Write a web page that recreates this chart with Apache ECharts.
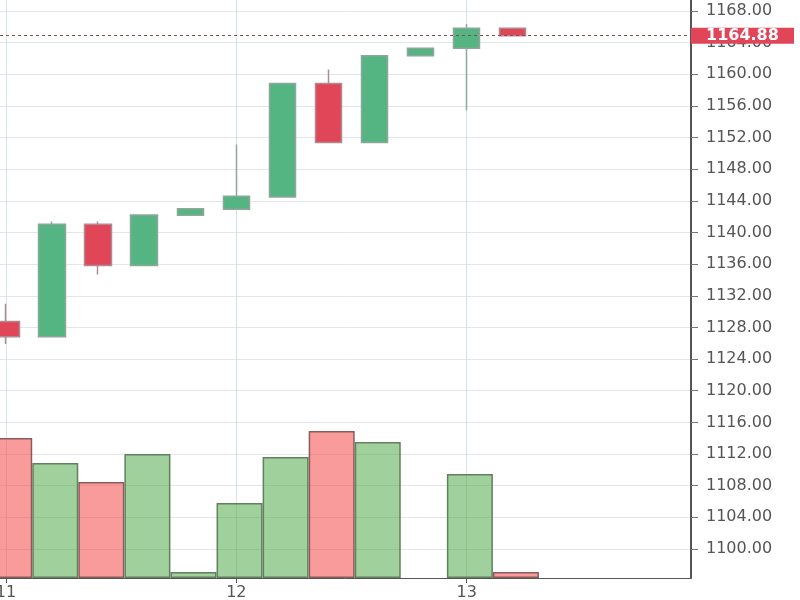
<!DOCTYPE html>
<html>
<head>
<meta charset="utf-8">
<script src="https://cdn.jsdelivr.net/npm/echarts@6/dist/echarts.min.js"></script>
<style>html,body{margin:0;padding:0;background:#fff}#c{width:800px;height:600px}</style>
</head>
<body>
<div id="c"></div>
<script>
// ---- data ----
const candleIndex = [0,1,2,3,4,5,6,7,8,9,10,11];
const opens  = [1128.74,1126.84,1141.03,1135.84,1142.17,1142.93,1144.48,1158.84,1151.37,1162.34,1163.28,1165.81];
const closes = [1126.84,1141.03,1135.84,1142.20,1143.00,1144.57,1158.84,1151.37,1162.34,1163.28,1165.81,1164.88];
const lows   = [1125.92,1126.84,1134.70,1135.84,1142.17,1142.93,1144.48,1151.37,1151.37,1162.34,1155.46,1164.88];
const highs  = [1130.99,1141.40,1141.40,1142.20,1143.00,1151.12,1158.84,1160.62,1162.34,1163.28,1166.35,1165.81];
const volumes = [14000,11500,9600,12400,600,7500,12100,14700,13600,0,10400,600];
const lastPrice = 1164.88;
const xTickPositions = [0,5,10];
const xTickLabels = ['11','12','13'];
const yTickValues = [1100,1104,1108,1112,1116,1120,1124,1128,1132,1136,1140,1144,1148,1152,1156,1160,1164,1168];

const UP = '#55b582', DOWN = '#e04657';
const candleData = candleIndex.map((x,i)=>[x, opens[i], closes[i], lows[i], highs[i]]);
const volData = [];
candleIndex.forEach((x,i)=>{
  if (volumes[i] > 0) {
    const up = closes[i] >= opens[i];
    volData.push({value:[x, volumes[i]], itemStyle:{
      color: up ? 'rgba(82,170,73,0.55)' : 'rgba(246,73,73,0.55)',
      borderColor: up ? '#62805e' : '#8a5c5c'
    }});
  }
});

const chart = echarts.init(document.getElementById('c'), null, {renderer:'canvas'});
chart.setOption({
  animation:false,
  backgroundColor:'#fff',
  grid:{left:0, right:109, top:0, bottom:22, containLabel:false, outerBoundsMode:'none'},
  xAxis:[{
    type:'value', min:-0.13, max:14.87,
    axisLine:{show:true, onZero:false, lineStyle:{color:'#555', width:1}},
    axisTick:{show:true, length:5, customValues:xTickPositions, lineStyle:{color:'#555'}},
    axisLabel:{customValues:xTickPositions, margin:7, color:'#555', fontSize:16, fontFamily:'DejaVu Sans',
      formatter:v=>{const k=xTickPositions.indexOf(v); return k>=0?xTickLabels[k]:'';}},
    splitLine:{show:true, lineStyle:{color:'#d6e2e6', width:1}}
  },{
    type:'value', min:-0.2, max:14.8, show:false, splitLine:{show:false}
  }],
  yAxis:[{
    type:'value', position:'right', min:1096.33, max:1169.39, scale:true,
    axisLine:{show:true, onZero:false, lineStyle:{color:'#555', width:2}},
    axisTick:{show:true, inside:false, length:7, customValues:yTickValues, lineStyle:{color:'#777'}},
    axisLabel:{customValues:yTickValues, margin:15, color:'#555', fontSize:16, fontFamily:'DejaVu Sans',
      formatter:v=>v.toFixed(2)},
    splitLine:{show:true, lineStyle:{color:'#e3e7ea', width:1}}
  },{
    type:'value', min:0, max:57800, show:false, splitLine:{show:false}, axisLine:{onZero:false}
  }],
  series:[{
    type:'bar', name:'volume', xAxisIndex:1, yAxisIndex:1, barWidth:46, z:1,
    itemStyle:{borderWidth:1.5},
    data:volData
  },{
    type:'candlestick', name:'price', xAxisIndex:0, yAxisIndex:0, barWidth:27, z:3,
    encode:{x:0, y:[1,2,3,4]},
    itemStyle:{color:UP, color0:DOWN, borderColor:'#8fa69a', borderColor0:'#b08a90', borderWidth:1.5},
    data:candleData,
    markLine:{
      silent:true, symbol:['none','none'], animation:false,
      lineStyle:{type:[3,3], color:'#8b4a50', width:1},
      label:{show:true, position:'end', distance:0, formatter:()=>lastPrice.toFixed(2),
        backgroundColor:DOWN, color:'#fff', fontFamily:'DejaVu Sans', fontSize:16, fontWeight:'bold',
        padding:[1,8,0,15], width:80, lineHeight:15, align:'left'},
      data:[{yAxis:lastPrice}]
    }
  }]
});
</script>
</body>
</html>
